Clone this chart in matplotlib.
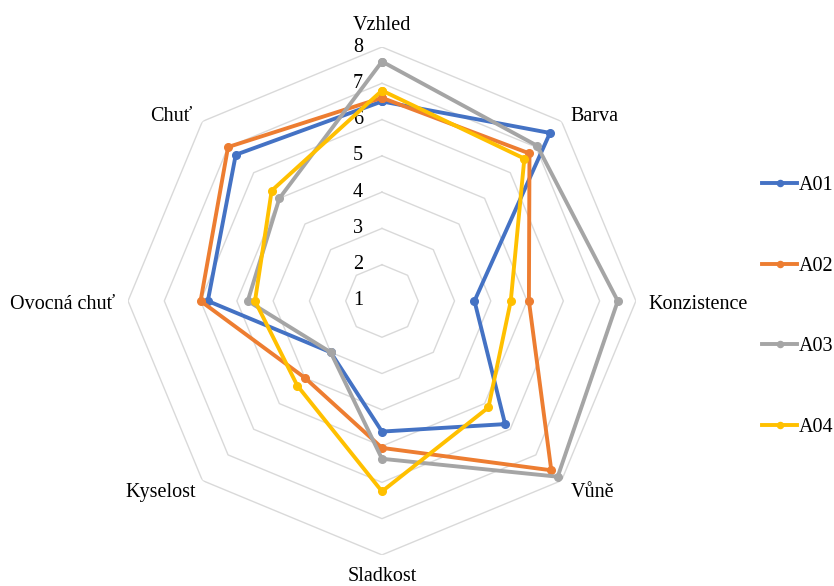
import numpy as np
import matplotlib
matplotlib.use('Agg')
import matplotlib.pyplot as plt

plt.rcParams['font.family'] = ['Liberation Serif', 'DejaVu Serif']

categories = ['Vzhled', 'Barva', 'Konzistence', 'Vůně', 'Sladkost', 'Kyselost', 'Ovocná chuť', 'Chuť']
series_names = ['A01', 'A02', 'A03', 'A04']
a01 = [6.5, 7.55, 3.55, 5.8, 4.6, 3.0, 5.8, 6.7]
a02 = [6.6, 6.75, 5.05, 7.6, 5.05, 4.0, 6.0, 7.0]
a03 = [7.6, 7.05, 7.5, 7.85, 5.35, 3.0, 4.7, 5.0]
a04 = [6.8, 6.55, 4.55, 5.15, 6.25, 4.3, 4.5, 5.3]
scale_ticks = [1, 2, 3, 4, 5, 6, 7, 8]

colors = ['#4472C4', '#ED7D31', '#A5A5A5', '#FFC000']

# label placement (offset in pixels, alignment)
label_pos = [((0, 17), 'center'), ((9, 0), 'left'), ((13, -8), 'left'), ((9, -16), 'left'),
             ((0, -26), 'center'), ((-6, -16), 'right'), ((-13, -8), 'right'), ((-10, 0), 'right')]


def draw_radar():
    n = len(categories)
    angles = np.linspace(0, 2 * np.pi, n, endpoint=False)
    closed = np.append(angles, angles[0])

    fig = plt.figure(figsize=(8.34, 5.86), dpi=100)
    ax = fig.add_axes([0.1535, 0.0529, 0.609, 0.867], projection='polar')
    ax.set_theta_offset(np.pi / 2)
    ax.set_theta_direction(-1)
    ax.set_ylim(1, 8)
    ax.grid(False)
    ax.spines['polar'].set_visible(False)
    ax.set_xticks([])
    ax.set_yticks([])

    # octagon grid
    for r in scale_ticks[1:]:
        ax.plot(closed, [r] * (n + 1), color='#D9D9D9', lw=1, zorder=1)

    for r in scale_ticks:
        ax.annotate(str(r), xy=(0, r), xytext=(-24, 0), textcoords='offset pixels',
                    ha='center', va='center', fontsize=14.5, annotation_clip=False)

    for i, cat in enumerate(categories):
        (dx, dy), ha = label_pos[i]
        ax.annotate(cat, xy=(angles[i], 8), xytext=(dx, dy), textcoords='offset pixels',
                    ha=ha, va='baseline', fontsize=14.5, annotation_clip=False)

    for name, vals, c in zip(series_names, [a01, a02, a03, a04], colors):
        ax.plot(closed, vals + [vals[0]], color=c, lw=2.8, marker='o', ms=5.5,
                label=name, zorder=3)

    fig.legend(loc='center left', bbox_to_anchor=(0.892, 0.477), frameon=False,
               fontsize=14.5, labelspacing=3.05, handlelength=1.75, handletextpad=0.05,
               markerscale=0.8)
    plt.savefig('out.png')


if __name__ == '__main__':
    draw_radar()
